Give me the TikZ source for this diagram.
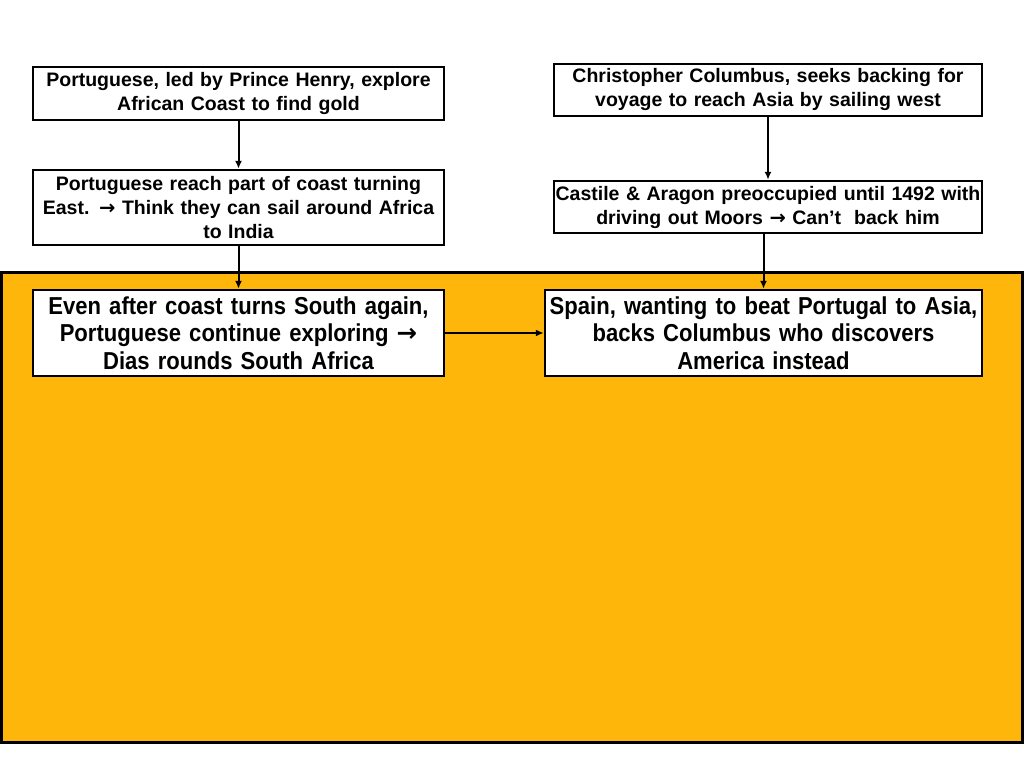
\documentclass[tikz,border=0pt]{standalone}
\usepackage{fontspec}
\setmainfont{Liberation Sans}
\newfontfamily\narrowsf[FakeStretch=0.9]{Liberation Sans}
\newfontfamily\arrowfont{DejaVu Sans}
\newcommand{\thenarrow}{{\arrowfont\bfseries →}}
\usetikzlibrary{arrows.meta, positioning, calc}
\definecolor{panelorange}{HTML}{FFB60B}

\begin{document}
\begin{tikzpicture}[x=1pt, y=-1pt,
    box/.style={draw, line width=2.5pt, fill=white, align=center, inner sep=1pt, font=\bfseries\fontsize{19.5}{24}\selectfont},
    bigbox/.style={draw, line width=2.5pt, fill=white, align=center, inner sep=1pt, font=\narrowsf\bfseries\fontsize{24.5}{27.5}\selectfont},
    arrow/.style={-{Latex[length=8pt, width=7pt]}, line width=2pt}
]
    \useasboundingbox (0,0) rectangle (1024,768);

    % orange panel
    \draw[line width=3pt, fill=panelorange] (1.5,272) rectangle (1022,742);

    % Portugal side
    \node[box, minimum width=411pt, minimum height=53pt, text width=405pt] (henry) at (238.5,93.5) {Portuguese, led by Prince Henry, explore\\African Coast to find gold};
    \node[box, minimum width=411pt, minimum height=75pt, text width=405pt] (east) at (238.5,207.5) {Portuguese reach part of coast turning\\East. \thenarrow{} Think they can sail around Africa\\to India};
    \node[bigbox, minimum width=411pt, minimum height=86pt, text width=405pt] (dias) at (238.5,333) {Even after coast turns South again,\\Portuguese continue exploring \thenarrow\\Dias rounds South Africa};

    % Spain side
    \node[box, minimum width=428pt, minimum height=52pt, text width=424pt] (columbus) at (768,90) {Christopher Columbus, seeks backing for\\voyage to reach Asia by sailing west};
    \node[box, minimum width=428pt, minimum height=52pt, text width=426pt] (castile) at (768,207) {Castile \& Aragon preoccupied until 1492 with\\driving out Moors \thenarrow{} Can’t\ \ back him};
    \node[bigbox, minimum width=437pt, minimum height=86pt, text width=433pt] (spain) at (763.5,333) {Spain, wanting to beat Portugal to Asia,\\backs Columbus who discovers\\America instead};

    \draw[arrow] (henry) -- (east);
    \draw[arrow] (east) -- (dias);
    \draw[arrow] (columbus) -- (castile);
    \draw[arrow] (spain.north |- castile.south) -- (spain.north);
    \draw[arrow] (dias) -- (spain);
\end{tikzpicture}
\end{document}
